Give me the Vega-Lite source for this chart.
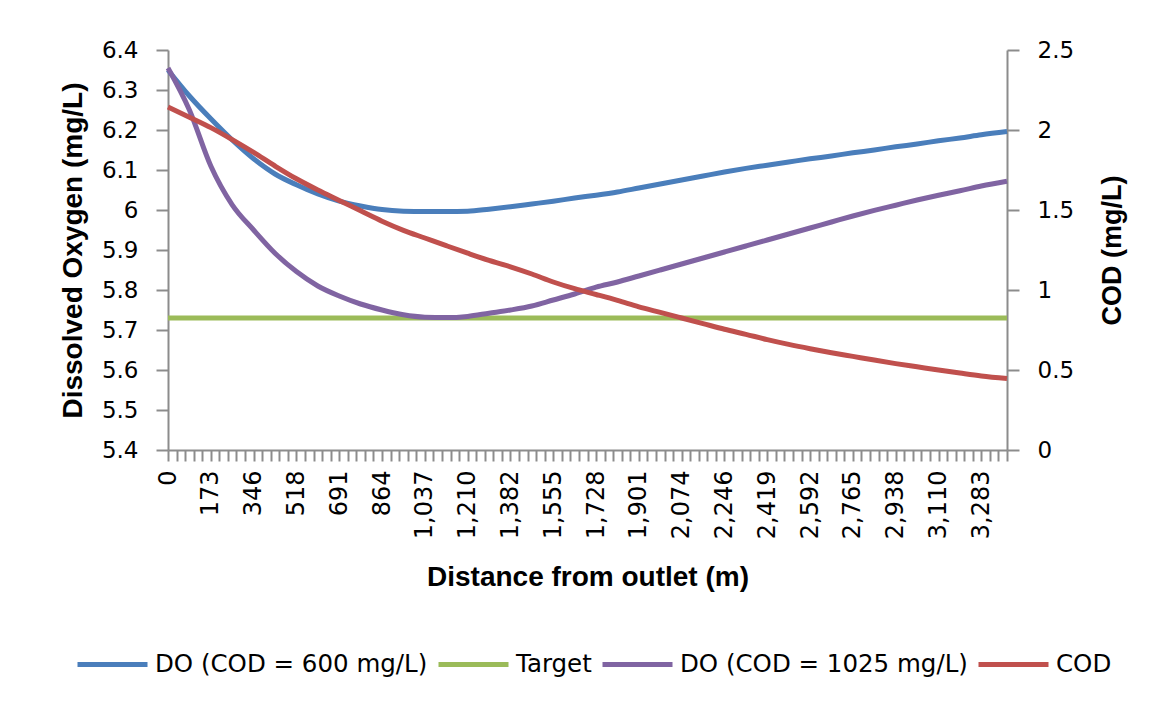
{
  "$schema": "https://vega.github.io/schema/vega-lite/v6.json",
  "width": 839,
  "height": 400,
  "autosize": "none",
  "padding": {"left": 168, "top": 50, "right": 148, "bottom": 255},
  "config": {"view": {"stroke": null}, "font": "DejaVu Sans"},
  "data": {"values": [
    {"d": 0, "do600": 6.35, "target": 5.73, "do1025": 6.355, "cod": 2.144},
    {"d": 86.4, "do600": 6.285, "target": 5.73, "do1025": 6.25, "cod": 2.08},
    {"d": 172.8, "do600": 6.228, "target": 5.73, "do1025": 6.11, "cod": 2.015},
    {"d": 259.2, "do600": 6.175, "target": 5.73, "do1025": 6.013, "cod": 1.94},
    {"d": 345.6, "do600": 6.128, "target": 5.73, "do1025": 5.95, "cod": 1.86},
    {"d": 432, "do600": 6.09, "target": 5.73, "do1025": 5.892, "cod": 1.775},
    {"d": 518.4, "do600": 6.063, "target": 5.73, "do1025": 5.846, "cod": 1.695},
    {"d": 604.8, "do600": 6.04, "target": 5.73, "do1025": 5.81, "cod": 1.625},
    {"d": 691.2, "do600": 6.022, "target": 5.73, "do1025": 5.785, "cod": 1.56},
    {"d": 777.6, "do600": 6.01, "target": 5.73, "do1025": 5.765, "cod": 1.495},
    {"d": 864, "do600": 6.001, "target": 5.73, "do1025": 5.75, "cod": 1.43},
    {"d": 950.4, "do600": 5.997, "target": 5.73, "do1025": 5.738, "cod": 1.373},
    {"d": 1036.8, "do600": 5.996, "target": 5.73, "do1025": 5.732, "cod": 1.325},
    {"d": 1123.2, "do600": 5.996, "target": 5.73, "do1025": 5.731, "cod": 1.277},
    {"d": 1209.6, "do600": 5.997, "target": 5.73, "do1025": 5.734, "cod": 1.23},
    {"d": 1296, "do600": 6.002, "target": 5.73, "do1025": 5.742, "cod": 1.185},
    {"d": 1382.4, "do600": 6.008, "target": 5.73, "do1025": 5.75, "cod": 1.145},
    {"d": 1468.8, "do600": 6.015, "target": 5.73, "do1025": 5.76, "cod": 1.1},
    {"d": 1555.2, "do600": 6.022, "target": 5.73, "do1025": 5.775, "cod": 1.05},
    {"d": 1641.6, "do600": 6.03, "target": 5.73, "do1025": 5.79, "cod": 1.008},
    {"d": 1728, "do600": 6.037, "target": 5.73, "do1025": 5.807, "cod": 0.972},
    {"d": 1814.4, "do600": 6.045, "target": 5.73, "do1025": 5.82, "cod": 0.935},
    {"d": 1900.8, "do600": 6.055, "target": 5.73, "do1025": 5.835, "cod": 0.895},
    {"d": 1987.2, "do600": 6.065, "target": 5.73, "do1025": 5.85, "cod": 0.86},
    {"d": 2073.6, "do600": 6.075, "target": 5.73, "do1025": 5.865, "cod": 0.825},
    {"d": 2160, "do600": 6.085, "target": 5.73, "do1025": 5.88, "cod": 0.79},
    {"d": 2246.4, "do600": 6.095, "target": 5.73, "do1025": 5.895, "cod": 0.755},
    {"d": 2332.8, "do600": 6.104, "target": 5.73, "do1025": 5.91, "cod": 0.723},
    {"d": 2419.2, "do600": 6.112, "target": 5.73, "do1025": 5.925, "cod": 0.69},
    {"d": 2505.6, "do600": 6.12, "target": 5.73, "do1025": 5.94, "cod": 0.66},
    {"d": 2592, "do600": 6.128, "target": 5.73, "do1025": 5.955, "cod": 0.633},
    {"d": 2678.4, "do600": 6.135, "target": 5.73, "do1025": 5.97, "cod": 0.608},
    {"d": 2764.8, "do600": 6.143, "target": 5.73, "do1025": 5.985, "cod": 0.585},
    {"d": 2851.2, "do600": 6.15, "target": 5.73, "do1025": 5.999, "cod": 0.562},
    {"d": 2937.6, "do600": 6.158, "target": 5.73, "do1025": 6.012, "cod": 0.54},
    {"d": 3024, "do600": 6.165, "target": 5.73, "do1025": 6.025, "cod": 0.52},
    {"d": 3110.4, "do600": 6.173, "target": 5.73, "do1025": 6.037, "cod": 0.5},
    {"d": 3196.8, "do600": 6.18, "target": 5.73, "do1025": 6.048, "cod": 0.481},
    {"d": 3283.2, "do600": 6.188, "target": 5.73, "do1025": 6.06, "cod": 0.463},
    {"d": 3386.88, "do600": 6.196, "target": 5.73, "do1025": 6.072, "cod": 0.447}
  ]},
  "layer": [
    {
      "transform": [{"fold": ["do600", "target", "do1025"], "as": ["key", "v"]}],
      "mark": {"type": "line", "strokeWidth": 5, "interpolate": "monotone"},
      "encoding": {
        "x": {
          "field": "d", "type": "quantitative",
          "scale": {"domain": [0, 3386.88], "nice": false, "zero": false},
          "axis": {
            "tickCount": 300,
            "values": [0, 34.56, 69.12, 103.68, 138.24, 172.8, 207.36, 241.92, 276.48, 311.04, 345.6, 380.16, 414.72, 449.28, 483.84, 518.4, 552.96, 587.52, 622.08, 656.64, 691.2, 725.76, 760.32, 794.88, 829.44, 864, 898.56, 933.12, 967.68, 1002.24, 1036.8, 1071.36, 1105.92, 1140.48, 1175.04, 1209.6, 1244.16, 1278.72, 1313.28, 1347.84, 1382.4, 1416.96, 1451.52, 1486.08, 1520.64, 1555.2, 1589.76, 1624.32, 1658.88, 1693.44, 1728, 1762.56, 1797.12, 1831.68, 1866.24, 1900.8, 1935.36, 1969.92, 2004.48, 2039.04, 2073.6, 2108.16, 2142.72, 2177.28, 2211.84, 2246.4, 2280.96, 2315.52, 2350.08, 2384.64, 2419.2, 2453.76, 2488.32, 2522.88, 2557.44, 2592, 2626.56, 2661.12, 2695.68, 2730.24, 2764.8, 2799.36, 2833.92, 2868.48, 2903.04, 2937.6, 2972.16, 3006.72, 3041.28, 3075.84, 3110.4, 3144.96, 3179.52, 3214.08, 3248.64, 3283.2, 3317.76, 3352.32, 3386.88],
            "labelExpr": "(round(datum.value / 34.56) % 5 == 0 && datum.value < 3300) ? format(datum.value, ',.0f') : ''",
            "labelAngle": 270,
            "labelOverlap": false,
            "labelFont": "DejaVu Sans",
            "labelFontSize": 24,
            "labelColor": "#000000",
            "labelPadding": 9,
            "tickSize": 11,
            "tickWidth": 2,
            "tickColor": "#8c8c8c",
            "domainColor": "#8c8c8c",
            "domainWidth": 2,
            "grid": false,
            "title": "Distance from outlet (m)",
            "titleFont": "Liberation Sans",
            "titleFontWeight": "bold",
            "titleFontSize": 28,
            "titleColor": "#000000",
            "titlePadding": 25
          }
        },
        "y": {
          "field": "v", "type": "quantitative",
          "scale": {"domain": [5.4, 6.4], "nice": false, "zero": false},
          "axis": {
            "orient": "left",
            "values": [5.4, 5.5, 5.6, 5.7, 5.8, 5.9, 6.0, 6.1, 6.2, 6.3, 6.4],
            "format": "~f",
            "labelFont": "DejaVu Sans",
            "labelFontSize": 23,
            "labelColor": "#000000",
            "labelPadding": 18,
            "tickSize": 12,
            "tickWidth": 2,
            "tickColor": "#8c8c8c",
            "domainColor": "#8c8c8c",
            "domainWidth": 2,
            "grid": false,
            "title": "Dissolved Oxygen (mg/L)",
            "titleFont": "Liberation Sans",
            "titleFontWeight": "bold",
            "titleFontSize": 28,
            "titleColor": "#000000",
            "titlePadding": 14
          }
        },
        "color": {
          "field": "key", "type": "nominal",
          "scale": {"domain": ["do600", "target", "do1025", "cod"], "range": ["#4A7EBB", "#9BBB59", "#8064A2", "#C0504D"]},
          "legend": {
            "orient": "none",
            "direction": "horizontal",
            "legendX": -93,
            "legendY": 577,
            "title": null,
            "symbolType": "stroke",
            "symbolSize": 4900,
            "symbolStrokeWidth": 5,
            "labelFont": "DejaVu Sans",
            "labelFontSize": 24.5,
            "labelColor": "#000000",
            "labelLimit": 0,
            "labelOffset": 5,
            "columnPadding": 0,
            "labelExpr": "datum.label == 'do600' ? 'DO (COD = 600 mg/L)' : datum.label == 'target' ? 'Target' : datum.label == 'do1025' ? 'DO (COD = 1025 mg/L)' : 'COD'"
          }
        }
      }
    },
    {
      "transform": [{"fold": ["cod"], "as": ["key", "v"]}],
      "mark": {"type": "line", "strokeWidth": 5, "interpolate": "monotone"},
      "encoding": {
        "x": {"field": "d", "type": "quantitative"},
        "y": {
          "field": "v", "type": "quantitative",
          "scale": {"domain": [0, 2.5], "nice": false},
          "axis": {
            "orient": "right",
            "values": [0, 0.5, 1, 1.5, 2, 2.5],
            "format": "~f",
            "labelFont": "DejaVu Sans",
            "labelFontSize": 23,
            "labelColor": "#000000",
            "labelPadding": 18,
            "tickSize": 12,
            "tickWidth": 2,
            "tickColor": "#8c8c8c",
            "domainColor": "#8c8c8c",
            "domainWidth": 2,
            "grid": false,
            "title": "COD (mg/L)",
            "titleAngle": 270,
            "titleFont": "Liberation Sans",
            "titleFontWeight": "bold",
            "titleFontSize": 27,
            "titleColor": "#000000",
            "titlePadding": 53
          }
        },
        "color": {"field": "key", "type": "nominal"}
      }
    }
  ],
  "resolve": {"scale": {"y": "independent"}}
}
